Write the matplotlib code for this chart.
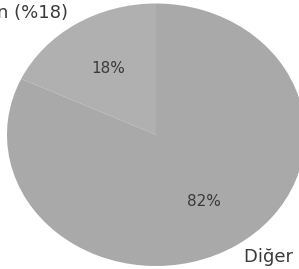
import matplotlib
matplotlib.use("Agg")
import matplotlib.pyplot as plt

# slice data
labels = ["Kadın (%18)", "Diğer (%82)"]
values = [18, 82]
colors = ["#b0b0b0", "#a9a9a9"]

fig = plt.figure(figsize=(2.99, 2.69), dpi=100)
ax = fig.add_axes([0, 0, 1, 1])

wedges, texts, autotexts = ax.pie(
    values, labels=labels, colors=colors, startangle=90, counterclock=True,
    autopct="%1.0f%%", pctdistance=0.6, labeldistance=1.1,
    wedgeprops={"linewidth": 0},
    textprops={"color": "#3a3a3a"},
)
for t in texts:
    t.set_fontsize(13)
for t in autotexts:
    t.set_fontsize(11)

# pie is stretched horizontally in the reference
ax.set_aspect("auto")
ax.set_xlim(-156 / 149, (299 - 156) / 149)
ax.set_ylim(-(269 - 134.75) / 131.25, 134.75 / 131.25)
ax.axis("off")

fig.savefig("out.png", dpi=100)
